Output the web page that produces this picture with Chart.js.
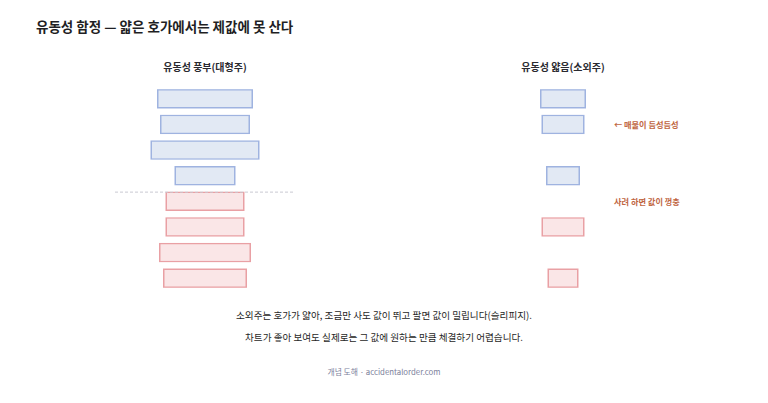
<!DOCTYPE html>
<html><head><meta charset="utf-8">
<script src="https://cdn.jsdelivr.net/npm/chart.js@4.4.1/dist/chart.umd.min.js"></script>
<style>
html,body{margin:0;padding:0;background:#fff;width:768px;height:403px;overflow:hidden;font-family:"Noto Sans CJK KR","Noto Sans",sans-serif;}
.abs{position:absolute;white-space:nowrap;}
#title{left:36px;top:16px;font-size:13.5px;font-weight:700;color:#1f1f24;}
.sub{top:59px;font-size:10px;font-weight:700;color:#2a2a30;transform:translateX(-50%);}
.note{font-size:8.2px;font-weight:700;color:#c0653f;}
.body{left:0;width:768px;text-align:center;font-size:9.6px;color:#1f1f26;}
#foot{left:0;width:768px;text-align:center;font-size:7.8px;color:#7c819c;top:366px;}
canvas{position:absolute;}
</style></head>
<body>
<div id="title" class="abs">유동성 함정 — 얇은 호가에서는 제값에 못 산다</div>
<div class="abs sub" style="left:205px">유동성 풍부(대형주)</div>
<div class="abs sub" style="left:563px">유동성 얇음(소외주)</div>
<div class="abs note" style="left:614px;top:118px">← 매물이 듬성듬성</div>
<div class="abs note" style="left:614px;top:195px">사려 하면 값이 껑충</div>
<div class="abs body" style="top:308px">소외주는 호가가 얇아, 조금만 사도 값이 뛰고 팔면 값이 밀립니다(슬리피지).</div>
<div class="abs body" style="top:330px">차트가 좋아 보여도 실제로는 그 값에 원하는 만큼 체결하기 어렵습니다.</div>
<div id="foot" class="abs">개념 도해 · accidentalorder.com</div>
<canvas id="left" style="left:105px;top:86px;width:200px;height:205px"></canvas>
<canvas id="right" style="left:463px;top:86px;width:200px;height:205px"></canvas>
<script>
// price levels (top: asks, bottom: bids)
const levels = ['매도4','매도3','매도2','매도1','매수1','매수2','매수3','매수4'];
// order-book depth (relative size) per level
const liquidAsks = [48, 45, 54.5, 30.5, null, null, null, null];
const liquidBids = [null, null, null, null, 39.5, 39.5, 46, 42];
const thinAsks   = [23, 21.5, null, 17, null, null, null, null];
const thinBids   = [null, null, null, null, null, 21.5, null, 15.5];

const askFill = '#e2e9f4', askLine = '#9fb3e0';
const bidFill = '#fae6e7', bidLine = '#e9a0a4';

function span(arr){ return arr.map(v => v == null ? null : [-v/2, v/2]); }

const spreadLine = {
  id:'spreadLine',
  afterDatasetsDraw(chart, args, opts){
    if(!opts.show) return;
    const {ctx, scales:{x}} = chart;
    const el = chart.getDatasetMeta(1).data[4];
    const top = el.y - el.height/2;
    ctx.save();
    ctx.strokeStyle = '#c9c9d2';
    ctx.lineWidth = 1;
    ctx.setLineDash([3,2]);
    ctx.beginPath();
    ctx.moveTo(x.getPixelForValue(-45), top + 0.5);
    ctx.lineTo(x.getPixelForValue(44), top + 0.5);
    ctx.stroke();
    ctx.restore();
  }
};

function make(id, asks, bids, showLine){
  const c = document.getElementById(id);
  return new Chart(c, {
    type:'bar',
    data:{
      labels: levels,
      datasets:[
        {label:'매도', data: span(asks), backgroundColor: askFill, borderColor: askLine, borderWidth:1.5, borderSkipped:false, grouped:false},
        {label:'매수', data: span(bids), backgroundColor: bidFill, borderColor: bidLine, borderWidth:1.5, borderSkipped:false, grouped:false}
      ]
    },
    options:{
      indexAxis:'y',
      responsive:false,
      animation:false,
      devicePixelRatio: 2,
      layout:{padding:0},
      datasets:{bar:{barPercentage:0.76, categoryPercentage:1}},
      scales:{
        x:{type:'linear', min:-50, max:50, display:false},
        y:{type:'category', display:false, offset:true}
      },
      plugins:{legend:{display:false}, tooltip:{enabled:false}, spreadLine:{show:showLine}}
    },
    plugins:[spreadLine]
  });
}
make('left', liquidAsks, liquidBids, true);
make('right', thinAsks, thinBids, false);
</script>
</body></html>
